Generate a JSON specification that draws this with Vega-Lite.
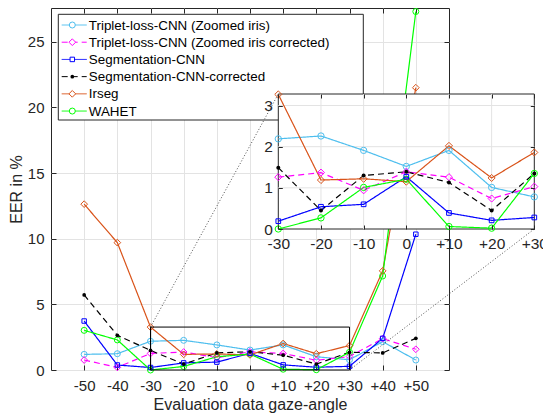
{
  "$schema": "https://vega.github.io/schema/vega-lite/v6.json",
  "width": 398,
  "height": 362,
  "autosize": "none",
  "padding": {"left": 51, "top": 8, "right": 94, "bottom": 43},
  "background": "white",
  "config": {
    "view": {"stroke": "#262626", "strokeWidth": 1},
    "font": "Liberation Sans",
    "legend": {"disable": true},
    "axis": {"labelFont": "Liberation Sans", "titleFont": "Liberation Sans", "labelColor": "#262626", "titleColor": "#262626", "tickColor": "#262626", "gridColor": "#e3e3e3", "titleFontWeight": "normal", "labelFlush": false, "labelOverlap": false}
  },
  "datasets": {
    "d": [
      {"s": "Triplet-loss-CNN (Zoomed iris)", "x": -50, "y": 1.19},
      {"s": "Triplet-loss-CNN (Zoomed iris)", "x": -40, "y": 1.24},
      {"s": "Triplet-loss-CNN (Zoomed iris)", "x": -30, "y": 2.19},
      {"s": "Triplet-loss-CNN (Zoomed iris)", "x": -20, "y": 2.26},
      {"s": "Triplet-loss-CNN (Zoomed iris)", "x": -10, "y": 1.91},
      {"s": "Triplet-loss-CNN (Zoomed iris)", "x": 0, "y": 1.52},
      {"s": "Triplet-loss-CNN (Zoomed iris)", "x": 10, "y": 1.91},
      {"s": "Triplet-loss-CNN (Zoomed iris)", "x": 20, "y": 1.01},
      {"s": "Triplet-loss-CNN (Zoomed iris)", "x": 30, "y": 0.78},
      {"s": "Triplet-loss-CNN (Zoomed iris)", "x": 40, "y": 2.16},
      {"s": "Triplet-loss-CNN (Zoomed iris)", "x": 50, "y": 0.76},
      {"s": "Triplet-loss-CNN (Zoomed iris corrected)", "x": -50, "y": 0.76},
      {"s": "Triplet-loss-CNN (Zoomed iris corrected)", "x": -40, "y": 0.2},
      {"s": "Triplet-loss-CNN (Zoomed iris corrected)", "x": -30, "y": 1.26},
      {"s": "Triplet-loss-CNN (Zoomed iris corrected)", "x": -20, "y": 1.37},
      {"s": "Triplet-loss-CNN (Zoomed iris corrected)", "x": -10, "y": 0.94},
      {"s": "Triplet-loss-CNN (Zoomed iris corrected)", "x": 0, "y": 1.39},
      {"s": "Triplet-loss-CNN (Zoomed iris corrected)", "x": 10, "y": 1.26},
      {"s": "Triplet-loss-CNN (Zoomed iris corrected)", "x": 20, "y": 0.74},
      {"s": "Triplet-loss-CNN (Zoomed iris corrected)", "x": 30, "y": 1.03},
      {"s": "Triplet-loss-CNN (Zoomed iris corrected)", "x": 40, "y": 2.39},
      {"s": "Triplet-loss-CNN (Zoomed iris corrected)", "x": 50, "y": 1.58},
      {"s": "Segmentation-CNN", "x": -50, "y": 3.73},
      {"s": "Segmentation-CNN", "x": -40, "y": 0.38},
      {"s": "Segmentation-CNN", "x": -30, "y": 0.19},
      {"s": "Segmentation-CNN", "x": -20, "y": 0.54},
      {"s": "Segmentation-CNN", "x": -10, "y": 0.6},
      {"s": "Segmentation-CNN", "x": 0, "y": 1.27},
      {"s": "Segmentation-CNN", "x": 10, "y": 0.39},
      {"s": "Segmentation-CNN", "x": 20, "y": 0.21},
      {"s": "Segmentation-CNN", "x": 30, "y": 0.28},
      {"s": "Segmentation-CNN", "x": 40, "y": 2.41},
      {"s": "Segmentation-CNN", "x": 50, "y": 10.34},
      {"s": "Segmentation-CNN-corrected", "x": -50, "y": 5.72},
      {"s": "Segmentation-CNN-corrected", "x": -40, "y": 2.64},
      {"s": "Segmentation-CNN-corrected", "x": -30, "y": 1.49},
      {"s": "Segmentation-CNN-corrected", "x": -20, "y": 0.45},
      {"s": "Segmentation-CNN-corrected", "x": -10, "y": 1.3},
      {"s": "Segmentation-CNN-corrected", "x": 0, "y": 1.39},
      {"s": "Segmentation-CNN-corrected", "x": 10, "y": 1.13},
      {"s": "Segmentation-CNN-corrected", "x": 20, "y": 0.45},
      {"s": "Segmentation-CNN-corrected", "x": 30, "y": 1.35},
      {"s": "Segmentation-CNN-corrected", "x": 40, "y": 1.3},
      {"s": "Segmentation-CNN-corrected", "x": 50, "y": 2.41},
      {"s": "Irseg", "x": -50, "y": 12.63},
      {"s": "Irseg", "x": -40, "y": 9.7},
      {"s": "Irseg", "x": -30, "y": 3.27},
      {"s": "Irseg", "x": -20, "y": 1.19},
      {"s": "Irseg", "x": -10, "y": 1.22},
      {"s": "Irseg", "x": 0, "y": 1.15},
      {"s": "Irseg", "x": 10, "y": 2.02},
      {"s": "Irseg", "x": 20, "y": 1.24},
      {"s": "Irseg", "x": 30, "y": 1.86},
      {"s": "Irseg", "x": 40, "y": 7.55},
      {"s": "Irseg", "x": 50, "y": 21.5},
      {"s": "WAHET", "x": -50, "y": 3.02},
      {"s": "WAHET", "x": -40, "y": 2.29},
      {"s": "WAHET", "x": -30, "y": 0.0},
      {"s": "WAHET", "x": -20, "y": 0.27},
      {"s": "WAHET", "x": -10, "y": 1.01},
      {"s": "WAHET", "x": 0, "y": 1.21},
      {"s": "WAHET", "x": 10, "y": 0.06},
      {"s": "WAHET", "x": 20, "y": 0.02},
      {"s": "WAHET", "x": 30, "y": 1.35},
      {"s": "WAHET", "x": 40, "y": 7.16},
      {"s": "WAHET", "x": 50, "y": 27.3}
    ],
    "leg": [
      {"s": "Triplet-loss-CNN (Zoomed iris)", "r": 1},
      {"s": "Triplet-loss-CNN (Zoomed iris corrected)", "r": 2},
      {"s": "Segmentation-CNN", "r": 3},
      {"s": "Segmentation-CNN-corrected", "r": 4},
      {"s": "Irseg", "r": 5},
      {"s": "WAHET", "r": 6}
    ],
    "conn": [
      {"x": -30, "y": 3.27, "x2": 8.53, "y2": 21.02},
      {"x": 30, "y": 0, "x2": 85.72, "y2": 10.74}
    ],
    "vgrid": [{"v": -20}, {"v": -10}, {"v": 0}, {"v": 10}, {"v": 20}],
    "hgrid": [{"v": 1}, {"v": 2}, {"v": 3}]
  },
  "layer": [
    {
      "data": {"name": "leg"},
      "layer": [
        {
          "data": {"values": [{}]},
          "mark": {"type": "rect", "fill": "white", "stroke": "#262626", "strokeWidth": 1},
          "encoding": {
            "x": {"datum": 0, "type": "quantitative", "scale": {"domain": [0, 305], "range": [7.3, 312.3], "nice": false, "zero": false}, "axis": null},
            "x2": {"datum": 305},
            "y": {"datum": 0.378, "type": "quantitative", "scale": {"domain": [0.378, 6.52], "range": [6.3, 112], "nice": false, "zero": false}, "axis": null},
            "y2": {"datum": 6.52}
          }
        },
        {
          "mark": {"type": "rule", "strokeWidth": 1},
          "encoding": {
            "x": {"datum": 3.4, "type": "quantitative", "axis": null},
            "x2": {"datum": 28.4},
            "y": {"field": "r", "type": "quantitative", "axis": null},
            "color": {"field": "s", "type": "nominal"},
            "strokeDash": {"field": "s", "type": "nominal"}
          }
        },
        {
          "transform": [{"filter": "datum.s == 'Triplet-loss-CNN (Zoomed iris)' || datum.s == 'WAHET'"}],
          "mark": {"type": "point", "shape": "circle", "size": 36, "filled": false, "fill": "white", "fillOpacity": 1, "strokeWidth": 1, "opacity": 1},
          "encoding": {
            "x": {"datum": 14, "type": "quantitative", "axis": null},
            "y": {"field": "r", "type": "quantitative", "axis": null},
            "color": {"field": "s", "type": "nominal"}
          }
        },
        {
          "transform": [{"filter": "datum.s == 'Triplet-loss-CNN (Zoomed iris corrected)' || datum.s == 'Irseg'"}],
          "mark": {"type": "point", "shape": "diamond", "size": 45, "filled": false, "fill": "white", "fillOpacity": 1, "strokeWidth": 1, "opacity": 1},
          "encoding": {
            "x": {"datum": 14, "type": "quantitative", "axis": null},
            "y": {"field": "r", "type": "quantitative", "axis": null},
            "color": {"field": "s", "type": "nominal"}
          }
        },
        {
          "transform": [{"filter": "datum.s == 'Segmentation-CNN'"}],
          "mark": {"type": "point", "shape": "square", "size": 20, "filled": false, "fill": "white", "fillOpacity": 1, "strokeWidth": 1, "opacity": 1},
          "encoding": {
            "x": {"datum": 14, "type": "quantitative", "axis": null},
            "y": {"field": "r", "type": "quantitative", "axis": null},
            "color": {"field": "s", "type": "nominal"}
          }
        },
        {
          "transform": [{"filter": "datum.s == 'Segmentation-CNN-corrected'"}],
          "mark": {"type": "point", "shape": "circle", "size": 14, "filled": true, "opacity": 1},
          "encoding": {
            "x": {"datum": 14, "type": "quantitative", "axis": null},
            "y": {"field": "r", "type": "quantitative", "axis": null},
            "color": {"field": "s", "type": "nominal"}
          }
        },
        {
          "mark": {"type": "text", "align": "left", "baseline": "middle", "font": "Liberation Sans", "fontSize": 13.4, "color": "#000000", "dy": 0.5},
          "encoding": {
            "x": {"datum": 30.5, "type": "quantitative", "axis": null},
            "y": {"field": "r", "type": "quantitative", "axis": null},
            "text": {"field": "s"}
          }
        }
      ]
    },
    {
      "layer": [
        {
          "data": {"name": "d"},
          "mark": {"type": "line", "strokeWidth": 1.2},
          "encoding": {
            "x": {"field": "x", "type": "quantitative", "scale": {"domain": [-60, 60], "nice": false, "zero": false},
              "axis": {"orient": "bottom", "values": [-50, -40, -30, -20, -10, 0, 10, 20, 30, 40, 50], "labelExpr": "datum.value > 0 ? '+' + datum.value : '' + datum.value", "title": "Evaluation data gaze-angle", "titleFontSize": 16, "labelFontSize": 15, "domain": false, "tickSize": -5, "labelPadding": 13, "grid": true, "titlePadding": 3}},
            "y": {"field": "y", "type": "quantitative", "scale": {"domain": [0, 27.57], "nice": false, "zero": false},
              "axis": {"orient": "left", "values": [0, 5, 10, 15, 20, 25], "title": "EER in %", "titleFontSize": 16, "labelFontSize": 15, "domain": false, "tickSize": -5, "labelPadding": 12, "grid": true, "titlePadding": 3}},
            "color": {"field": "s", "type": "nominal", "scale": {"domain": ["Triplet-loss-CNN (Zoomed iris)", "Triplet-loss-CNN (Zoomed iris corrected)", "Segmentation-CNN", "Segmentation-CNN-corrected", "Irseg", "WAHET"], "range": ["#4DBEEE", "#FF00FF", "#0000FF", "#000000", "#D95319", "#00FF00"]}},
            "strokeDash": {"field": "s", "type": "nominal", "scale": {"domain": ["Triplet-loss-CNN (Zoomed iris)", "Triplet-loss-CNN (Zoomed iris corrected)", "Segmentation-CNN", "Segmentation-CNN-corrected", "Irseg", "WAHET"], "range": [[1, 0], [6, 4], [1, 0], [6, 4], [1, 0], [1, 0]]}}
          }
        },
        {
          "data": {"name": "d"},
          "transform": [{"filter": "datum.s == 'Triplet-loss-CNN (Zoomed iris)' || datum.s == 'WAHET'"}],
          "mark": {"type": "point", "shape": "circle", "size": 36, "filled": false, "strokeWidth": 1, "opacity": 1},
          "encoding": {
            "x": {"field": "x", "type": "quantitative", "axis": null},
            "y": {"field": "y", "type": "quantitative", "axis": null},
            "color": {"field": "s", "type": "nominal"}
          }
        },
        {
          "data": {"name": "d"},
          "transform": [{"filter": "datum.s == 'Triplet-loss-CNN (Zoomed iris corrected)' || datum.s == 'Irseg'"}],
          "mark": {"type": "point", "shape": "diamond", "size": 45, "filled": false, "strokeWidth": 1, "opacity": 1},
          "encoding": {
            "x": {"field": "x", "type": "quantitative", "axis": null},
            "y": {"field": "y", "type": "quantitative", "axis": null},
            "color": {"field": "s", "type": "nominal"}
          }
        },
        {
          "data": {"name": "d"},
          "transform": [{"filter": "datum.s == 'Segmentation-CNN'"}],
          "mark": {"type": "point", "shape": "square", "size": 20, "filled": false, "strokeWidth": 1, "opacity": 1},
          "encoding": {
            "x": {"field": "x", "type": "quantitative", "axis": null},
            "y": {"field": "y", "type": "quantitative", "axis": null},
            "color": {"field": "s", "type": "nominal"}
          }
        },
        {
          "data": {"name": "d"},
          "transform": [{"filter": "datum.s == 'Segmentation-CNN-corrected'"}],
          "mark": {"type": "point", "shape": "circle", "size": 14, "filled": true, "opacity": 1},
          "encoding": {
            "x": {"field": "x", "type": "quantitative", "axis": null},
            "y": {"field": "y", "type": "quantitative", "axis": null},
            "color": {"field": "s", "type": "nominal"}
          }
        },
        {
          "data": {"values": [{}]},
          "mark": {"type": "rect", "fill": null, "fillOpacity": 0, "stroke": "#000000", "strokeWidth": 1},
          "encoding": {
            "x": {"datum": -30, "type": "quantitative",
              "axis": {"orient": "top", "values": [-50, -40, -30, -20, -10, 0, 10, 20, 30, 40, 50], "labels": false, "title": null, "domain": false, "tickSize": -5, "grid": false}},
            "x2": {"datum": 30},
            "y": {"datum": 0, "type": "quantitative",
              "axis": {"orient": "right", "values": [0, 5, 10, 15, 20, 25], "labels": false, "title": null, "domain": false, "tickSize": -5, "grid": false}},
            "y2": {"datum": 3.27}
          }
        },
        {
          "data": {"name": "conn"},
          "mark": {"type": "rule", "stroke": "#505050", "strokeWidth": 1, "strokeDash": [1, 2]},
          "encoding": {
            "x": {"field": "x", "type": "quantitative", "axis": null},
            "y": {"field": "y", "type": "quantitative", "axis": null},
            "x2": {"field": "x2"},
            "y2": {"field": "y2"}
          }
        }
      ],
      "resolve": {"axis": {"x": "independent", "y": "independent"}}
    },
    {
      "layer": [
        {
          "data": {"values": [{}]},
          "mark": {"type": "rect", "fill": "white", "stroke": "#262626", "strokeWidth": 1},
          "encoding": {
            "x": {"datum": -30, "type": "quantitative", "scale": {"domain": [-30, 30], "range": [227.3, 483.3], "nice": false, "zero": false},
              "axis": {"orient": "top", "offset": -86, "values": [-30, -20, -10, 0, 10, 20, 30], "labels": false, "title": null, "domain": false, "tickSize": -4, "grid": false, "zindex": 1}},
            "x2": {"datum": 30},
            "y": {"datum": 0, "type": "quantitative", "scale": {"domain": [0, 3.28], "range": [221, 86], "nice": false, "zero": false},
              "axis": {"orient": "right", "offset": 85.3, "values": [0, 1, 2, 3], "labels": false, "title": null, "domain": false, "tickSize": -4, "grid": false, "zindex": 1}},
            "y2": {"datum": 3.28}
          }
        },
        {
          "data": {"name": "vgrid"},
          "mark": {"type": "rule", "stroke": "#e3e3e3", "strokeWidth": 1},
          "encoding": {
            "x": {"field": "v", "type": "quantitative", "axis": null},
            "y": {"datum": 0, "type": "quantitative", "axis": null},
            "y2": {"datum": 3.28}
          }
        },
        {
          "data": {"name": "hgrid"},
          "mark": {"type": "rule", "stroke": "#e3e3e3", "strokeWidth": 1},
          "encoding": {
            "y": {"field": "v", "type": "quantitative", "axis": null},
            "x": {"datum": -30, "type": "quantitative", "axis": null},
            "x2": {"datum": 30}
          }
        },
        {
          "data": {"name": "d"},
          "transform": [{"filter": "datum.x >= -30 && datum.x <= 30"}],
          "mark": {"type": "line", "strokeWidth": 1.2},
          "encoding": {
            "x": {"field": "x", "type": "quantitative",
              "axis": {"orient": "bottom", "offset": -141, "values": [-30, -20, -10, 0, 10, 20, 30], "labelExpr": "datum.value > 0 ? '+' + datum.value : '' + datum.value", "title": null, "labelFontSize": 15.5, "domain": false, "tickSize": -4, "labelPadding": 11, "grid": false, "zindex": 1}},
            "y": {"field": "y", "type": "quantitative",
              "axis": {"orient": "left", "offset": -227.3, "values": [0, 1, 2, 3], "title": null, "labelFontSize": 15.5, "domain": false, "tickSize": -4, "labelPadding": 10, "grid": false, "zindex": 1}},
            "color": {"field": "s", "type": "nominal"},
            "strokeDash": {"field": "s", "type": "nominal"}
          }
        },
        {
          "data": {"name": "d"},
          "transform": [{"filter": "datum.x >= -30 && datum.x <= 30"}, {"filter": "datum.s == 'Triplet-loss-CNN (Zoomed iris)' || datum.s == 'WAHET'"}],
          "mark": {"type": "point", "shape": "circle", "size": 40, "filled": false, "strokeWidth": 1, "opacity": 1},
          "encoding": {
            "x": {"field": "x", "type": "quantitative", "axis": null},
            "y": {"field": "y", "type": "quantitative", "axis": null},
            "color": {"field": "s", "type": "nominal"}
          }
        },
        {
          "data": {"name": "d"},
          "transform": [{"filter": "datum.x >= -30 && datum.x <= 30"}, {"filter": "datum.s == 'Triplet-loss-CNN (Zoomed iris corrected)' || datum.s == 'Irseg'"}],
          "mark": {"type": "point", "shape": "diamond", "size": 50, "filled": false, "strokeWidth": 1, "opacity": 1},
          "encoding": {
            "x": {"field": "x", "type": "quantitative", "axis": null},
            "y": {"field": "y", "type": "quantitative", "axis": null},
            "color": {"field": "s", "type": "nominal"}
          }
        },
        {
          "data": {"name": "d"},
          "transform": [{"filter": "datum.x >= -30 && datum.x <= 30"}, {"filter": "datum.s == 'Segmentation-CNN'"}],
          "mark": {"type": "point", "shape": "square", "size": 22, "filled": false, "strokeWidth": 1, "opacity": 1},
          "encoding": {
            "x": {"field": "x", "type": "quantitative", "axis": null},
            "y": {"field": "y", "type": "quantitative", "axis": null},
            "color": {"field": "s", "type": "nominal"}
          }
        },
        {
          "data": {"name": "d"},
          "transform": [{"filter": "datum.x >= -30 && datum.x <= 30"}, {"filter": "datum.s == 'Segmentation-CNN-corrected'"}],
          "mark": {"type": "point", "shape": "circle", "size": 16, "filled": true, "opacity": 1},
          "encoding": {
            "x": {"field": "x", "type": "quantitative", "axis": null},
            "y": {"field": "y", "type": "quantitative", "axis": null},
            "color": {"field": "s", "type": "nominal"}
          }
        }
      ],
      "resolve": {"axis": {"x": "independent", "y": "independent"}}
    }
  ],
  "resolve": {"scale": {"x": "independent", "y": "independent"}}
}
